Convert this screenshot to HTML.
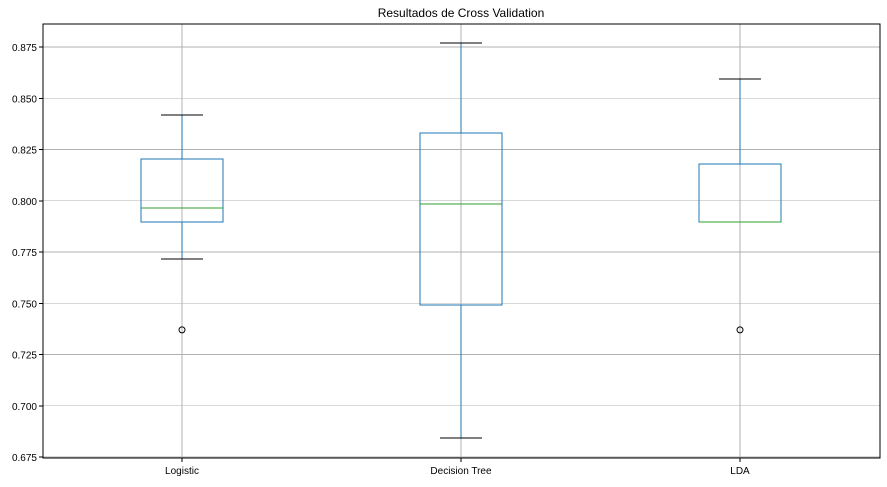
<!DOCTYPE html>
<html><head><meta charset="utf-8"><style>
body{margin:0;background:#fff;width:887px;height:482px;overflow:hidden}
svg{font-family:"Liberation Sans","DejaVu Sans",sans-serif}
line,rect{shape-rendering:crispEdges}
</style></head><body>
<svg id="chart" width="887" height="482">
<text x="461" y="17" text-anchor="middle" font-size="12">Resultados de Cross Validation</text>
<g id="grid"></g><g id="boxes"></g>
<rect x="43" y="24" width="837" height="434" fill="none" stroke="#000" stroke-width="1"/>
<g id="axes"></g>
</svg>
<script>
const categories=["Logistic","Decision Tree","LDA"];
const whiskerHigh=[0.8418,0.877,0.8594];
const q3=[0.8204,0.833,0.8179];
const medians=[0.7965,0.7984,0.7896];
const q1=[0.7896,0.7491,0.7896];
const whiskerLow=[0.7716,0.6843,0.7896];
const outliers=[[0.737],[],[0.737]];
const yTicks=[0.675,0.700,0.725,0.750,0.775,0.800,0.825,0.850,0.875];
const yMin=0.675,yMax=0.875;
const L=43,R=880,T=24,B=458;
function y(v){return 457-(v-yMin)/(yMax-yMin)*410;}
function x(i){return 182+i*279;}
const ns="http://www.w3.org/2000/svg";
function mk(p,t,a){const e=document.createElementNS(ns,t);for(const k in a)e.setAttribute(k,a[k]);p.appendChild(e);return e;}
const g=document.getElementById('grid'),ax=document.getElementById('axes'),bx=document.getElementById('boxes');
yTicks.forEach(v=>{
 const l=mk(g,'line',{x1:L,x2:R,y1:y(v),y2:y(v),stroke:'#b0b0b0','stroke-width':0.8});
 
 
 mk(ax,'line',{x1:L-4,x2:L,y1:y(v),y2:y(v),stroke:'#000'});
 const t=mk(ax,'text',{x:L-6,y:y(v)+4,'text-anchor':'end','font-size':10});
 t.textContent=v.toFixed(3);
 
 
});
categories.forEach((c,i)=>{
 const cx=x(i);
 const l=mk(g,'line',{x1:cx,x2:cx,y1:T,y2:B,stroke:'#b0b0b0','stroke-width':0.8});
 
 
 mk(ax,'line',{x1:cx,x2:cx,y1:B,y2:B+4,stroke:'#000'});
 const t=mk(ax,'text',{x:cx,y:B+16,'text-anchor':'middle','font-size':10});
 t.textContent=c;
 
 
 const grp=mk(bx,'g',{});
 
 
 const blue='#1f77b4';
 mk(grp,'line',{x1:cx,x2:cx,y1:y(q3[i]),y2:y(whiskerHigh[i]),stroke:blue});
 mk(grp,'line',{x1:cx,x2:cx,y1:y(q1[i]),y2:y(whiskerLow[i]),stroke:blue});
 mk(grp,'line',{x1:cx-21,x2:cx+21,y1:y(whiskerHigh[i]),y2:y(whiskerHigh[i]),stroke:'#000'});
 mk(grp,'line',{x1:cx-21,x2:cx+21,y1:y(whiskerLow[i]),y2:y(whiskerLow[i]),stroke:'#000'});
 mk(grp,'rect',{x:cx-41,y:y(q3[i]),width:82,height:y(q1[i])-y(q3[i]),fill:'none',stroke:blue});
 mk(grp,'line',{x1:cx-41,x2:cx+41,y1:y(medians[i]),y2:y(medians[i]),stroke:'#2ca02c'});
 outliers[i].forEach(o=>{
  const cc=mk(grp,'circle',{cx:cx,cy:y(o),r:3,fill:'none',stroke:'#000'});
  
  
 });
});
</script>
</body></html>
